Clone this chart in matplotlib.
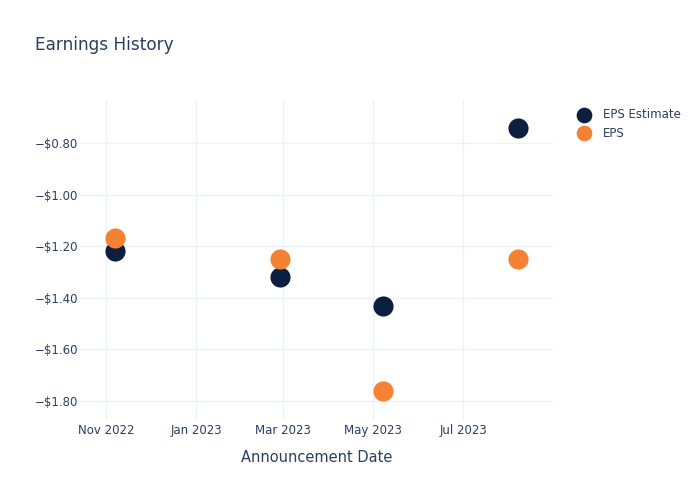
import matplotlib
matplotlib.use('Agg')
import matplotlib.pyplot as plt
import matplotlib.dates as mdates
import numpy as np
import pandas as pd

# data
dates = pd.to_datetime(['2022-11-07', '2023-02-27', '2023-05-08', '2023-08-07'])
eps_estimate = [-1.22, -1.32, -1.43, -0.74]
eps_actual = [-1.17, -1.25, -1.76, -1.25]

navy = '#0d1f3f'
orange = '#f58234'
text_col = '#2a3f5f'
grid_col = '#eef1f8'

fig = plt.figure(figsize=(7, 5), dpi=100)
ax = fig.add_axes([0.114, 0.16, 0.676, 0.64])

ax.scatter(dates, eps_estimate, s=210, color=navy, label='EPS Estimate', zorder=3, linewidths=0)
ax.scatter(dates, eps_actual, s=210, color=orange, label='EPS', zorder=3, linewidths=0)

ax.set_xlim(pd.Timestamp('2022-10-14'), pd.Timestamp('2023-08-31'))
ax.set_ylim(-1.874, -0.633)

ax.xaxis.set_major_locator(mdates.MonthLocator(bymonth=[1, 3, 5, 7, 11]))
ax.xaxis.set_major_formatter(mdates.DateFormatter('%b %Y'))
ax.set_yticks(np.arange(-1.8, -0.79, 0.2))
ax.yaxis.set_major_formatter(plt.FuncFormatter(lambda v, p: '\u2212$%.2f' % abs(v)))

for s in ax.spines.values():
    s.set_visible(False)
ax.grid(True, color=grid_col, linewidth=1)
ax.set_axisbelow(True)
ax.tick_params(length=0, labelsize=8.5, colors=text_col)
ax.tick_params(axis='y', pad=1)
ax.tick_params(axis='x', pad=3)

ax.set_xlabel('Announcement Date', fontsize=10.5, color=text_col, labelpad=9)
fig.text(0.05, 0.91, 'Earnings History', fontsize=12.2, color=text_col, va='center')

leg = ax.legend(loc='upper left', bbox_to_anchor=(1.025, 1.0), frameon=False,
                fontsize=8.5, markerscale=0.78, handletextpad=0.55, labelspacing=0.5,
                borderaxespad=0.25)
for t in leg.get_texts():
    t.set_color(text_col)

fig.savefig('out.png', dpi=100)
